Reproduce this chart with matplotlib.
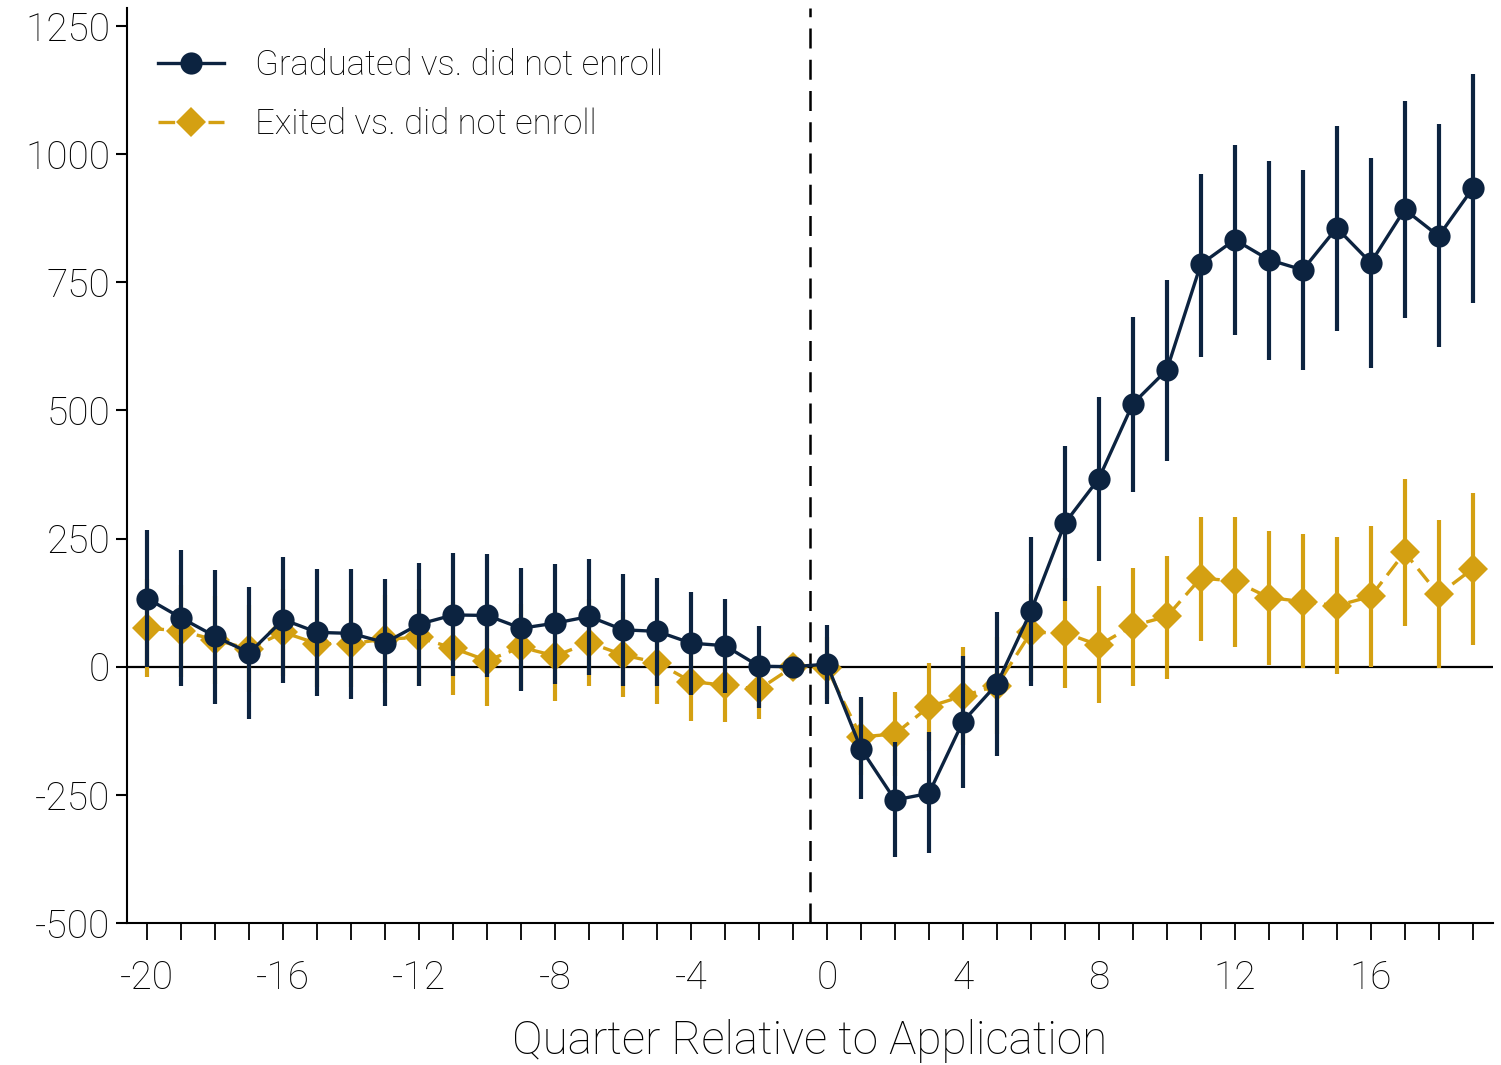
import matplotlib
matplotlib.use("Agg")
from matplotlib import pyplot as plt
import numpy as np

# Quarters relative to application
quarters = list(range(-20, 20))

# Graduated vs. did not enroll: point estimates and 95% CI bounds
grad_est = [133, 95, 59, 27, 92, 67, 65, 47, 83, 101,
            100, 75, 85, 98, 72, 69, 46, 41, 1, 0,
            5, -160, -260, -247, -107, -34, 108, 280, 367, 513,
            579, 785, 833, 794, 774, 856, 788, 892, 840, 933]
grad_lo = [-1, -37, -72, -102, -32, -57, -63, -76, -38, -18,
           -21, -48, -34, -16, -38, -37, -55, -51, -80, 0,
           -73, -259, -372, -364, -236, -175, -38, 129, 206, 340,
           401, 605, 648, 599, 579, 655, 583, 681, 623, 710]
grad_hi = [266, 227, 189, 155, 215, 191, 191, 171, 202, 221,
           220, 193, 200, 210, 181, 174, 146, 133, 79, 0,
           82, -60, -146, -128, 21, 106, 254, 430, 527, 683,
           755, 962, 1017, 986, 969, 1055, 993, 1103, 1058, 1156]

# Exited vs. did not enroll
exit_est = [75, 70, 52, 35, 67, 45, 45, 54, 57, 36,
            12, 38, 21, 47, 23, 8, -29, -36, -44, 0,
            -3, -137, -131, -78, -57, -37, 67, 66, 42, 80,
            98, 173, 167, 135, 127, 119, 137, 223, 141, 191]
exit_lo = [-21, -20, -33, -50, -18, -40, -40, -31, -38, -55,
           -76, -46, -66, -38, -60, -73, -105, -107, -102, 0,
           -63, -212, -213, -164, -152, -132, -28, -42, -70, -38,
           -23, 51, 38, 4, -2, -14, 0, 79, -3, 42]
exit_hi = [171, 160, 137, 120, 152, 130, 130, 139, 152, 127,
           100, 122, 108, 132, 106, 89, 47, 35, 14, 0,
           57, -62, -49, 8, 38, 58, 162, 174, 157, 193,
           216, 293, 293, 265, 259, 253, 275, 366, 286, 339]

navy = "#0c2340"
gold = "#d4a012"

plt.rcParams['font.family'] = ['Roboto', 'DejaVu Sans']
plt.rcParams['font.weight'] = 'light'
plt.rcParams['axes.labelweight'] = 'light'
plt.rcParams['axes.unicode_minus'] = False

fig = plt.figure(figsize=(15.01, 10.65), dpi=100)
ax = fig.add_axes([0.0846, 0.1333, 0.9101, 0.8592])

x = np.array(quarters)
ge = np.array(grad_est)
ee = np.array(exit_est)

# reference lines
ax.axhline(0, color="black", linewidth=1.6, zorder=1)
ax.axvline(-0.5, color="black", linewidth=1.8, linestyle=(0, (8, 4.5)), zorder=1)

# confidence intervals (skip the omitted quarter)
keep = x != -1
ax.vlines(x[keep], np.array(exit_lo)[keep], np.array(exit_hi)[keep],
          color=gold, linewidth=3.0, zorder=2)
ax.plot(x, ee, color=gold, linewidth=2.4, linestyle=(0, (5, 2.5)),
        marker="D", markersize=15, markeredgewidth=0, zorder=3,
        label="Exited vs. did not enroll")
ax.vlines(x[keep], np.array(grad_lo)[keep], np.array(grad_hi)[keep],
          color=navy, linewidth=3.0, zorder=4)
ax.plot(x, ge, color=navy, linewidth=2.4, marker="o", markersize=16,
        markeredgewidth=0, zorder=5, label="Graduated vs. did not enroll")

ax.set_xlim(-20.6, 19.6)
ax.set_ylim(-500, 1285)
ax.set_yticks([-500, -250, 0, 250, 500, 750, 1000, 1250])
ax.set_xticks(range(-20, 17, 4))
ax.set_xticks(range(-20, 20), minor=True)
ax.tick_params(axis="y", labelsize=28, length=8, width=1.5, pad=4)
ax.tick_params(axis="x", which="both", labelsize=28, length=12, width=1.3, pad=14)
ax.tick_params(axis="x", which="minor", labelbottom=False)

for side in ["top", "right"]:
    ax.spines[side].set_visible(False)
for side in ["left", "bottom"]:
    ax.spines[side].set_linewidth(1.5)

ax.set_xlabel("Quarter Relative to Application", fontsize=33, labelpad=16)

handles, labels = ax.get_legend_handles_labels()
ax.legend(handles[::-1], labels[::-1], loc="upper left", frameon=False,
          fontsize=25, handlelength=1.9, handletextpad=0.9, labelspacing=0.75,
          bbox_to_anchor=(0.0, 0.99))

fig.savefig("out.png", dpi=100)
